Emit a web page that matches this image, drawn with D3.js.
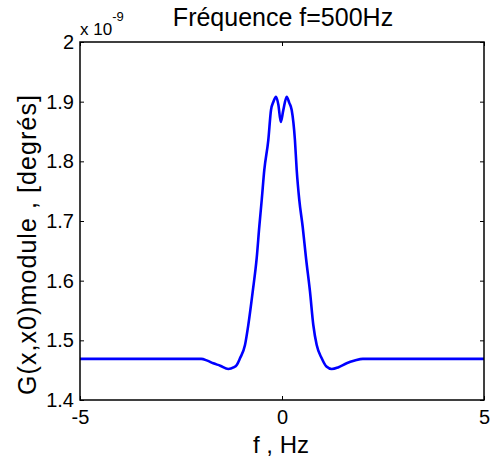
<!DOCTYPE html>
<html>
<head>
<meta charset="utf-8">
<script src="https://cdn.jsdelivr.net/npm/d3@7"></script>
<style>
  html, body { margin: 0; padding: 0; background: #fff; }
  svg { display: block; }
  text { font-family: "Liberation Sans", Arial, sans-serif; fill: #000; }
</style>
</head>
<body>
<svg id="chart" width="490" height="463"></svg>
<script>
// Data (G values in units of 1e-9)
const freq = [-5, -2.0, -1.85, -1.7, -1.53, -1.33, -1.2, -1.12, -1.04, -0.916, -0.834, -0.725, -0.626, -0.562, -0.502, -0.438, -0.339, -0.272, -0.21, -0.149, -0.09, -0.03,
              0.03, 0.116, 0.18, 0.24, 0.32, 0.364, 0.428, 0.512, 0.594, 0.693, 0.775, 0.859, 0.983, 1.1, 1.23, 1.4, 1.6, 1.8, 2.0, 5];
const gModule = [1.469, 1.469, 1.466, 1.4615, 1.4575, 1.452, 1.4545, 1.4587, 1.4699, 1.4922, 1.5257, 1.5815, 1.638, 1.6904, 1.7352, 1.7855, 1.8357, 1.886, 1.9003, 1.908, 1.895, 1.866,
                 1.885, 1.908, 1.898, 1.886, 1.8357, 1.7855, 1.7352, 1.6904, 1.638, 1.5815, 1.5257, 1.4922, 1.4699, 1.456, 1.452, 1.455, 1.4615, 1.466, 1.469, 1.469];
const xTicks = [-5, 0, 5];
const xTickLabels = ["-5", "0", "5"];
const yTicks = [1.4, 1.5, 1.6, 1.7, 1.8, 1.9, 2.0];
const yTickLabels = ["1.4", "1.5", "1.6", "1.7", "1.8", "1.9", "2"];
const titleText = "Fréquence f=500Hz";
const xLabelText = "f , Hz";
const yLabelText = "G(x,x0)module , [degrés]";

const svg = d3.select("#chart");
const L = 80, R = 484, T = 42, B = 400;

const x = d3.scaleLinear().domain([-5, 5]).range([L, R]);
const y = d3.scaleLinear().domain([1.4, 2.0]).range([B, T]);

// line
const pts = freq.map((f, i) => [f, gModule[i]]);
const line = d3.line().x(d => x(d[0])).y(d => y(d[1])).curve(d3.curveMonotoneX);

svg.append("path")
  .datum(pts)
  .attr("d", line)
  .attr("fill", "none")
  .attr("stroke", "#0000ff")
  .attr("stroke-width", 2.6)
  .attr("stroke-linejoin", "round");

// axes (ticks inward, mirrored)
const tickLen = 4;
const tickAttr = sel => sel.call(g => g.select(".domain").remove())
  .call(g => g.selectAll(".tick line").attr("stroke", "#000").attr("stroke-width", 1));

const fs = 20;
const xAxisB = svg.append("g").attr("transform", `translate(0,${B})`)
  .call(d3.axisBottom(x).tickValues(xTicks).tickSizeInner(-tickLen).tickSizeOuter(0).tickPadding(10)
    .tickFormat((d, i) => xTickLabels[i]));
tickAttr(xAxisB);
xAxisB.selectAll("text").attr("font-size", fs).attr("font-family", "Liberation Sans, Arial, sans-serif");

const xAxisT = svg.append("g").attr("transform", `translate(0,${T})`)
  .call(d3.axisTop(x).tickValues(xTicks).tickSizeInner(-tickLen).tickSizeOuter(0).tickFormat(""));
tickAttr(xAxisT);

const yAxisL = svg.append("g").attr("transform", `translate(${L},0)`)
  .call(d3.axisLeft(y).tickValues(yTicks).tickSizeInner(-tickLen).tickSizeOuter(0).tickPadding(6)
    .tickFormat((d, i) => yTickLabels[i]));
tickAttr(yAxisL);
yAxisL.selectAll("text").attr("font-size", fs).attr("font-family", "Liberation Sans, Arial, sans-serif");

const yAxisR = svg.append("g").attr("transform", `translate(${R},0)`)
  .call(d3.axisRight(y).tickValues(yTicks).tickSizeInner(-tickLen).tickSizeOuter(0).tickFormat(""));
tickAttr(yAxisR);

// frame
svg.append("rect").attr("x", L).attr("y", T).attr("width", R - L).attr("height", B - T)
  .attr("fill", "none").attr("stroke", "#000").attr("stroke-width", 1.5);

// exponent label
const ex = svg.append("text").attr("x", 80).attr("y", 35).attr("font-size", 17);
ex.append("tspan").text("x 10");
ex.append("tspan").attr("dy", -14).attr("font-size", 13).text("-9");

// title
svg.append("text").attr("x", 283).attr("y", 26).attr("text-anchor", "middle")
  .attr("font-size", 25).text(titleText);

// x label
svg.append("text").attr("x", 281).attr("y", 453).attr("text-anchor", "middle")
  .attr("font-size", 24).text(xLabelText);

// y label
svg.append("text").attr("transform", `translate(36,245) rotate(-90)`)
  .attr("text-anchor", "middle").attr("font-size", 25)
  .attr("textLength", 300).attr("lengthAdjust", "spacing").text(yLabelText);
</script>
</body>
</html>
